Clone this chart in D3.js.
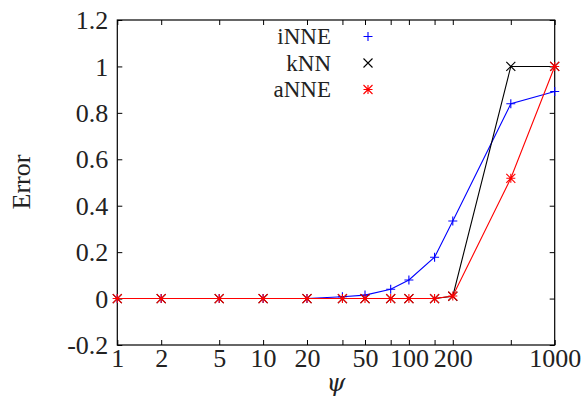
<!DOCTYPE html>
<html><head><meta charset="utf-8">
<script src="https://cdn.jsdelivr.net/npm/d3@7/dist/d3.min.js"></script>
<style>
html,body{margin:0;padding:0;background:#fff;}
</style></head>
<body><svg id="c" width="583" height="406"></svg>
<script>
const psi = [1, 2, 5, 10, 20, 35, 50, 75, 100, 150, 200, 500, 1000];
const xTickLabels = [1, 2, 5, 10, 20, 50, 100, 200, 1000];
const yTicks = [-0.2, 0, 0.2, 0.4, 0.6, 0.8, 1, 1.2];
const iNNE = [0, 0, 0, 0, 0, 0.008, 0.015, 0.04, 0.08, 0.178, 0.334, 0.839, 0.892];
const kNN  = [0, 0, 0, 0, 0, 0, 0, 0, 0, 0, 0.01, 1.0, 1.0];
const aNNE = [0, 0, 0, 0, 0, 0, 0, 0, 0, 0, 0.011, 0.518, 1.0];
const seriesNames = ["iNNE", "kNN", "aNNE"];
const seriesColors = ["#0000ff", "#000000", "#ff0000"];
const seriesMarkers = ["plus", "cross", "star"];

const FONT = "'Liberation Serif', 'Times New Roman', serif";
const FS = "26px";
const svg = d3.select("#c");
const L = 117.3, R = 554.7, T = 20, B = 345;
const x = d3.scaleLog().domain([1, 1000]).range([L, R]);
const y = d3.scaleLinear().domain([-0.2, 1.2]).range([B, T]);
const fmtY = d => (Math.abs(d) < 1e-9 ? "0" : String(+d.toFixed(1)));

const tl = 5;
svg.append("g").attr("transform", `translate(0,${B})`)
  .call(d3.axisBottom(x).tickValues(psi).tickSize(-tl).tickFormat(d => xTickLabels.includes(d) ? String(d) : ""))
  .call(g => { g.select(".domain").remove(); g.selectAll("text").attr("dy", "0").attr("y", 22); });
svg.append("g").attr("transform", `translate(0,${T})`)
  .call(d3.axisTop(x).tickValues(psi).tickSize(-tl).tickFormat(""))
  .call(g => g.select(".domain").remove());
svg.append("g").attr("transform", `translate(${L},0)`)
  .call(d3.axisLeft(y).tickValues(yTicks).tickSize(-tl).tickFormat(fmtY))
  .call(g => { g.select(".domain").remove(); g.selectAll("text").attr("x", -9).attr("dy", "0.33em"); });
svg.append("g").attr("transform", `translate(${R},0)`)
  .call(d3.axisRight(y).tickValues(yTicks).tickSize(-tl).tickFormat(""))
  .call(g => g.select(".domain").remove());
svg.selectAll(".tick line").attr("stroke", "#000").attr("stroke-width", 1);
svg.selectAll(".tick text").attr("fill", "#222").style("font-family", FONT).style("font-size", FS);

svg.append("rect").attr("x", L).attr("y", T).attr("width", R - L).attr("height", B - T)
  .attr("fill", "none").attr("stroke", "#000").attr("stroke-width", 1.2);

function marker(g, type, cx, cy, color) {
  const s = 4.5;
  const p = d3.path();
  if (type === "plus" || type === "star") {
    p.moveTo(cx - s, cy); p.lineTo(cx + s, cy);
    p.moveTo(cx, cy - s); p.lineTo(cx, cy + s);
  }
  if (type === "cross" || type === "star") {
    p.moveTo(cx - s, cy - s); p.lineTo(cx + s, cy + s);
    p.moveTo(cx - s, cy + s); p.lineTo(cx + s, cy - s);
  }
  g.append("path").attr("d", p.toString()).attr("stroke", color).attr("stroke-width", 1.1).attr("fill", "none");
}

const data = [iNNE, kNN, aNNE];
const line = d3.line().x((d, i) => x(psi[i])).y(d => y(d));
data.forEach((vals, k) => {
  const g = svg.append("g");
  g.append("path").datum(vals).attr("d", line).attr("fill", "none")
    .attr("stroke", seriesColors[k]).attr("stroke-width", 1.1);
  vals.forEach((v, i) => marker(g, seriesMarkers[k], x(psi[i]), y(v), seriesColors[k]));
});

seriesNames.forEach((n, k) => {
  const by = 44 + k * 26.5;
  svg.append("text").attr("x", 331).attr("y", by).attr("text-anchor", "end")
    .attr("fill", "#222").style("font-family", FONT).style("font-size", "23px").text(n);
  marker(svg, seriesMarkers[k], 368, by - 7.5, seriesColors[k]);
});

svg.append("text").attr("transform", "translate(30,182) rotate(-90)").attr("text-anchor", "middle")
  .attr("fill", "#222").style("font-family", FONT).style("font-size", FS).text("Error");
svg.append("text").attr("x", 336).attr("y", 391).attr("text-anchor", "middle")
  .attr("fill", "#222").style("font-family", "'DejaVu Serif', serif").style("font-size", "24px")
  .style("font-style", "italic").text("ψ");
</script></body></html>
